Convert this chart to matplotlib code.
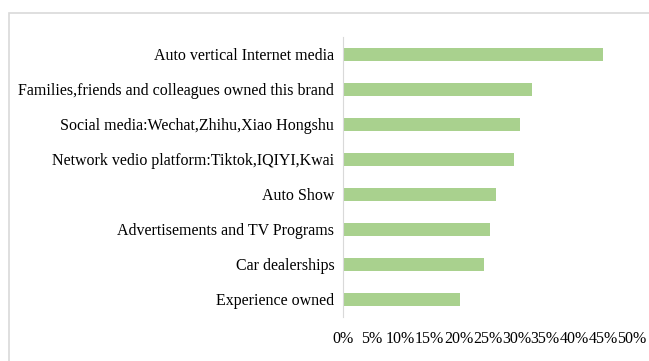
import matplotlib.pyplot as plt
from matplotlib.patches import Rectangle

categories = ['Auto vertical Internet media',
              'Families,friends and colleagues owned this brand',
              'Social media:Wechat,Zhihu,Xiao Hongshu',
              'Network vedio platform:Tiktok,IQIYI,Kwai',
              'Auto Show',
              'Advertisements and TV Programs',
              'Car dealerships',
              'Experience owned']
values = [44.9, 32.7, 30.6, 29.6, 26.5, 25.4, 24.4, 20.3]
ticks = [0, 5, 10, 15, 20, 25, 30, 35, 40, 45, 50]

plt.rcParams['font.family'] = ['Liberation Serif', 'DejaVu Serif']

fig = plt.figure(figsize=(6.49, 3.61), dpi=100)
fig.patches.append(Rectangle((9/649, -0.1), 1.2, 1 - 13/361 + 0.1, transform=fig.transFigure,
                             fill=False, edgecolor='#d9d9d9', linewidth=1.2))
ax = fig.add_axes([0.528, 0.122, 0.446, 0.776])

ypos = list(range(len(categories)))
ax.barh(ypos, values, height=0.37, color='#a9d18e')
ax.set_ylim(len(categories) - 0.5, -0.5)
ax.set_xlim(0, 50)
ax.set_yticks(ypos)
ax.set_yticklabels(categories, fontsize=11.5)
ax.set_xticks(ticks)
ax.set_xticklabels([f'{t}%' for t in ticks], fontsize=11.5)
for s in ['top', 'right', 'bottom']:
    ax.spines[s].set_visible(False)
ax.spines['left'].set_color('#d9d9d9')
ax.tick_params(length=0, pad=6)
ax.tick_params(axis='x', pad=10)

fig.savefig('out.png', dpi=100)
